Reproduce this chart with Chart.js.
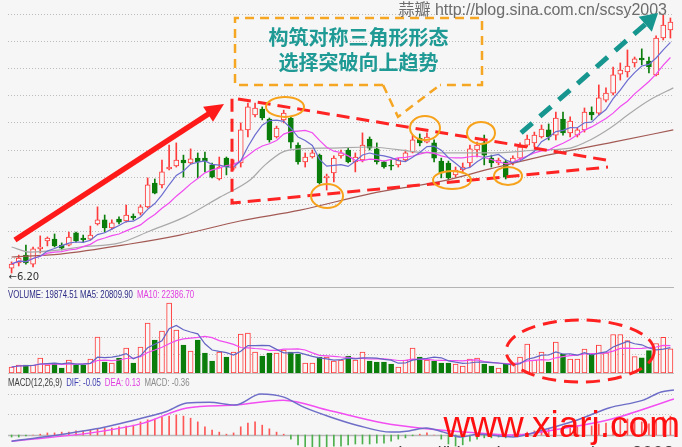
<!DOCTYPE html>
<html>
<head>
<meta charset="utf-8">
<script src="https://cdn.jsdelivr.net/npm/chart.js@4.4.1/dist/chart.umd.min.js"></script>
<style>
  html, body { margin: 0; padding: 0; background: #f6f6f6; overflow: hidden; }
  #wrap { position: relative; width: 682px; height: 447px; }
  canvas { position: absolute; left: 0; }
  #cPrice { top: 0; z-index: 3; }
  #cVol { top: 288px; z-index: 2; }
  #cMacd { top: 374px; z-index: 1; }
</style>
</head>
<body>
<div id="wrap">
  <canvas id="cMacd" width="682" height="73"></canvas>
  <canvas id="cVol" width="682" height="100"></canvas>
  <canvas id="cPrice" width="682" height="288"></canvas>
</div>
<script>
// ---- daily bars (oldest first) ----
const openP = [6.38,6.57,6.86,6.53,7.09,7.38,7.45,7.23,7.23,7.68,
  7.49,7.45,8.01,8.16,7.86,8.19,8.12,8.30,8.41,8.64,
  9.52,9.45,10.04,10.15,10.37,10.26,10.44,10.44,10.19,9.67,
  10.44,10.07,10.26,11.48,12.03,12.25,11.88,11.22,11.85,11.92,
  10.92,10.30,10.48,10.55,9.71,9.89,10.52,10.74,10.30,10.37,
  11.14,10.78,10.30,10.18,10.19,10.37,10.66,11.18,11.03,11.00,
  10.33,10.26,9.82,10.00,10.26,10.74,11.00,10.44,10.26,10.30,
  10.26,10.44,10.92,11.00,11.22,11.48,11.29,11.88,11.37,11.29,
  11.48,12.14,12.10,12.58,12.84,13.54,13.62,13.95,14.13,14.02,
  13.51,14.87,15.17];
const highP = [6.61,6.86,7.23,7.16,7.57,7.53,7.64,7.31,7.71,7.71,
  7.60,7.93,8.64,8.34,8.16,8.27,8.71,8.38,8.71,9.71,
  9.67,10.37,10.92,11.00,10.55,10.78,10.63,10.66,10.26,10.48,
  10.48,10.37,11.74,12.47,12.47,12.33,11.92,11.62,12.21,11.96,
  11.00,10.63,10.74,10.59,9.85,10.52,10.74,10.81,10.63,11.37,
  11.22,11.00,10.33,10.37,10.44,10.74,11.29,11.33,11.37,11.11,
  10.44,10.33,10.11,10.26,10.92,11.03,11.29,10.55,10.44,10.37,
  10.52,11.00,11.29,11.40,11.66,11.70,12.14,12.14,11.96,11.55,
  12.29,12.33,13.14,13.03,13.80,13.95,14.43,14.17,14.47,14.17,
  14.95,15.72,15.61];
const lowP = [6.20,6.46,6.53,6.42,6.94,7.20,7.16,7.05,7.20,7.34,
  7.34,7.42,7.97,7.71,7.82,8.01,8.08,8.16,8.34,8.60,
  9.12,9.34,10.00,10.11,9.74,10.22,9.71,9.93,9.71,9.63,
  9.82,10.00,10.11,11.22,11.96,11.85,11.03,11.18,11.74,10.81,
  10.22,10.11,10.44,9.48,9.26,9.56,10.44,10.26,9.93,10.30,
  10.74,10.22,10.07,10.00,10.11,10.33,10.63,10.89,11.00,10.30,
  9.71,9.63,9.74,9.93,10.11,10.48,10.19,10.11,10.19,9.67,
  10.19,10.37,10.85,10.85,11.18,11.11,11.11,11.29,11.22,11.22,
  11.40,11.85,12.03,12.51,12.77,13.32,13.43,13.80,13.88,13.58,
  13.47,14.80,14.87];
const closeP = [6.53,6.75,6.57,7.09,7.16,7.49,7.20,7.12,7.53,7.38,
  7.42,7.60,8.16,7.86,8.05,8.08,8.34,8.23,8.64,9.45,
  9.15,9.93,10.11,10.37,10.26,10.41,10.30,10.33,9.74,10.11,
  10.11,10.26,11.48,12.33,12.29,11.92,11.11,11.55,12.10,11.03,
  10.30,10.48,10.63,9.52,9.78,10.44,10.63,10.30,10.48,10.92,
  10.81,10.30,10.11,10.14,10.37,10.63,11.11,11.00,11.22,10.44,
  9.89,9.71,10.00,10.11,10.78,10.92,10.55,10.26,10.37,9.74,
  10.44,10.85,11.14,11.29,11.51,11.22,11.92,11.37,11.81,11.48,
  12.14,12.03,12.66,12.84,13.51,13.69,13.84,14.10,14.06,13.80,
  14.87,15.35,15.46];
const volume = [4920,6560,6560,6560,12300,6560,8200,4100,10660,6560,
  6560,11480,29520,9020,8200,12300,20500,8200,21320,41000,
  27060,34440,57400,35260,22960,18040,27060,16400,9840,17220,
  13120,17220,31980,32800,17220,13940,16400,16400,18860,17220,
  15580,8200,8200,13120,13120,9840,10660,13940,10660,17220,
  9840,9020,9020,7380,4920,10660,20500,13120,10660,9840,
  8200,8200,7380,5740,11480,12300,7380,5740,4100,7380,
  8200,13120,23780,10660,17220,9020,25420,15580,11480,11480,
  19680,15580,22960,16600,31600,31600,26617.5,13400,12450,18300,
  24170,29255,19874.51];

// longer averages, read as [bar, price]
const ma30Line = [[0,7.16],[2.6,6.97],[6.8,7.05],[9.6,7.16],[15.1,7.31],[19.3,7.75],[24.2,8.27],
  [29.1,9.00],[33.3,9.63],[35.4,10.19],[37.9,10.67],[40.3,10.78],[44.5,10.81],[50,10.85],
  [58.4,10.63],[66.8,10.63],[73.8,10.74],[78,10.81],[80.8,11.11],[83.6,11.55],[86.4,12.10],
  [89.1,12.58],[92.4,13.03]];
const ma60Line = [[0,6.79],[6.8,6.90],[16.5,7.27],[23.5,7.60],[31.9,8.12],[40.3,8.52],
  [50,9.12],[60.8,9.63],[66.8,10.04],[74.8,10.55],[84,11.03],[92.4,11.48]];

// MACD(12,26,9)
const difLine = [[0,-0.15],[4.4,-0.05],[11.8,0.15],[18.4,0.42],[21.4,0.56],[24.5,0.78],[27.6,0.80],
  [31.2,0.73],[34.8,1.00],[37.9,0.93],[40.8,0.68],[44.5,0.44],[48.2,0.24],[53,0.07],[55.5,0.10],
  [57.9,0.17],[60.3,0.07],[62.8,-0.05],[65.1,0.02],[70,-0.05],[74.2,0.12],[79.1,0.37],[83.4,0.66],
  [88.2,0.85],[90.7,1.05],[92.5,1.10]];
const deaLine = [[0,-0.15],[11.8,0.07],[18.4,0.29],[24.5,0.66],[31.2,0.73],[37.9,0.85],[44.5,0.59],
  [51.9,0.29],[57.9,0.15],[65.1,0.05],[70,0.0],[77.3,0.17],[83.4,0.37],[92.5,0.88]];
const macdHist = [-0.05,-0.05,-0.02,0,0.02,0.05,0.05,0.07,0.07,0.10,
  0.10,0.12,0.15,0.17,0.17,0.20,0.22,0.24,0.32,0.37,
  0.39,0.44,0.46,0.49,0.46,0.41,0.32,0.20,0.12,0.07,
  0.02,0.05,0.20,0.29,0.32,0.24,0.15,0.07,0.02,-0.10,
  -0.24,-0.29,-0.32,-0.32,-0.29,-0.27,-0.27,-0.24,-0.22,-0.22,
  -0.22,-0.20,-0.20,-0.15,-0.10,-0.07,-0.02,0.02,0.05,0,
  -0.10,-0.22,-0.27,-0.24,-0.15,-0.10,-0.07,-0.07,-0.05,-0.07,
  -0.02,0.02,0.07,0.10,0.12,0.15,0.20,0.20,0.22,0.22,
  0.24,0.22,0.27,0.29,0.34,0.37,0.39,0.37,0.32,0.27,
  0.37,0.44,0.46];
const macdTitle = ['MACD(12,26,9)', 'DIF: -0.05', 'DEA: 0.13', 'MACD: -0.36'];

// reference grid levels
const priceGrid = [6.757,7.757,8.757,9.757,10.757,11.757,12.757,13.757,14.757,15.757];
const volumeGrid = [15580,29930,44280];
const macdGrid = [0.5,1.0];

// pattern notes, in [bar, price] units
const notes = {
  trend: { from: [0.47, 7.42], to: [29.66, 12.44] },
  wedge: [[83.0, 10.37], [30.78, 12.66], [30.78, 8.78], [83.28, 10.11]],
  rings: [[38.18, 12.33, 19, 10], [44.05, 9.04, 16, 12], [57.73, 11.55, 15, 12],
          [61.5, 9.63, 19, 9], [65.55, 11.37, 14, 11], [69.32, 9.78, 14, 9]],
  callout: { left: 31.2, right: 65.69, top: 15.61, bottom: 13.14, tip: [53.96, 11.96], baseL: 51.87, baseR: 59.82,
             lines: ['构筑对称三角形形态', '选择突破向上趋势'], rows: [14.91, 13.97] },
  breakout: { from: [71.14, 11.37], to: [90.27, 15.79] },
  volRing: [79.4, 18040, 74, 31]
};

// ---- styling ----
const RED = '#ff3a3a', GREEN = '#0a7d0a', HOLLOW = '#f8f8f8';
const N = closeP.length;
const bars = closeP.map((_, i) => i);
const isUp = bars.map(i => closeP[i] >= openP[i]);

function movingAvg(arr, n) {
  return arr.map((_, i) => {
    const w = arr.slice(Math.max(0, i - n + 1), i + 1);
    return w.reduce((a, b) => a + b, 0) / w.length;
  });
}
const ma5 = movingAvg(closeP, 5), ma10 = movingAvg(closeP, 10);
const vma5 = movingAvg(volume, 5), vma10 = movingAvg(volume, 10);

function baseOptions(yMin, yMax, pad) {
  return {
    responsive: false, animation: false, devicePixelRatio: 1, events: [],
    layout: { padding: pad },
    plugins: { legend: { display: false }, tooltip: { enabled: false } },
    scales: {
      x: { type: 'linear', min: -0.5, max: N - 0.5, display: false, offset: false },
      y: { min: yMin, max: yMax, display: false }
    }
  };
}

function panelPlugin(id, grid, extras) {
  return {
    id,
    beforeDatasetsDraw(chart) {
      const { ctx, chartArea: a, scales: { y } } = chart;
      ctx.save();
      ctx.strokeStyle = '#bdbdbd'; ctx.lineWidth = 1; ctx.setLineDash([1, 2]);
      grid.forEach(v => {
        const py = Math.round(y.getPixelForValue(v)) + 0.5;
        ctx.beginPath(); ctx.moveTo(a.left, py); ctx.lineTo(a.right, py); ctx.stroke();
      });
      ctx.restore();
      if (extras.under) extras.under(chart);
    },
    afterDraw(chart) { if (extras.over) extras.over(chart); }
  };
}

function pt(chart, i, v) {
  return { x: chart.scales.x.getPixelForValue(i), y: chart.scales.y.getPixelForValue(v) };
}
function head(ctx, from, tip, len, half) {
  const ang = Math.atan2(tip.y - from.y, tip.x - from.x);
  const c = Math.cos(ang), s = Math.sin(ang);
  ctx.beginPath();
  ctx.moveTo(tip.x, tip.y);
  ctx.lineTo(tip.x - len * c + half * s, tip.y - len * s - half * c);
  ctx.lineTo(tip.x - len * c - half * s, tip.y - len * s + half * c);
  ctx.closePath(); ctx.fill();
}
function squeezedText(ctx, text, x, y, sx, color) {
  ctx.save(); ctx.translate(x, y); ctx.scale(sx, 1);
  ctx.fillStyle = color; ctx.fillText(text, 0, 0);
  const w = ctx.measureText(text).width * sx;
  ctx.restore();
  return w;
}

// ---- price panel ----
new Chart(document.getElementById('cPrice'), {
  type: 'bar',
  data: {
    datasets: [
      { data: bars.map(i => ({ x: i, y: [lowP[i], highP[i]] })),
        backgroundColor: bars.map(i => isUp[i] ? RED : GREEN),
        barThickness: 1, grouped: false, order: 5 },
      { data: bars.map(i => ({ x: i, y: [openP[i], closeP[i]] })),
        backgroundColor: bars.map(i => isUp[i] ? HOLLOW : GREEN),
        borderColor: bars.map(i => isUp[i] ? RED : GREEN),
        borderWidth: 1, borderSkipped: false, barThickness: 5, grouped: false, order: 4 },
      { type: 'line', data: ma60Line.map(([x, y]) => ({ x, y })), borderColor: '#a35a55', borderWidth: 1.2,
        pointRadius: 0, cubicInterpolationMode: 'monotone', order: 3 },
      { type: 'line', data: ma30Line.map(([x, y]) => ({ x, y })), borderColor: '#a9a9a9', borderWidth: 1.2,
        pointRadius: 0, cubicInterpolationMode: 'monotone', order: 3 },
      { type: 'line', data: bars.map(i => ({ x: i, y: ma10[i] })), borderColor: '#f04cf0', borderWidth: 1.2,
        pointRadius: 0, order: 2 },
      { type: 'line', data: bars.map(i => ({ x: i, y: ma5[i] })), borderColor: '#6c6cd0', borderWidth: 1.2,
        pointRadius: 0, order: 1 }
    ]
  },
  options: baseOptions(5.6465, 16.2738, { left: 8, right: 8, top: 0, bottom: 0 }),
  plugins: [panelPlugin('pricePanel', priceGrid, {
    over(chart) {
      const { ctx, chartArea: a } = chart;
      ctx.save();
      // panel divider
      ctx.strokeStyle = '#b4b4b4'; ctx.lineWidth = 1;
      ctx.beginPath(); ctx.moveTo(a.left, a.bottom - 0.5); ctx.lineTo(a.right, a.bottom - 0.5); ctx.stroke();

      // lowest low marker
      const lowVal = Math.min(...lowP);
      const lp = pt(chart, lowP.indexOf(lowVal), lowVal);
      ctx.font = '10px "DejaVu Sans"'; ctx.fillStyle = '#333'; ctx.textBaseline = 'middle';
      ctx.fillText('\u2190' + lowVal.toFixed(2), lp.x - 3, lp.y + 4);

      // rising trend arrow
      const t0 = pt(chart, ...notes.trend.from), t1 = pt(chart, ...notes.trend.to);
      const ang = Math.atan2(t1.y - t0.y, t1.x - t0.x);
      ctx.strokeStyle = '#ff1a1a'; ctx.fillStyle = '#ff1a1a'; ctx.lineWidth = 5.5; ctx.lineCap = 'butt';
      ctx.beginPath(); ctx.moveTo(t0.x, t0.y);
      ctx.lineTo(t1.x - 14 * Math.cos(ang), t1.y - 14 * Math.sin(ang)); ctx.stroke();
      head(ctx, t0, t1, 19, 9);

      // symmetric triangle outline
      ctx.setLineDash([13, 7]); ctx.lineWidth = 3; ctx.strokeStyle = '#ff2424';
      ctx.beginPath();
      notes.wedge.forEach(([i, v], k) => { const p = pt(chart, i, v); k ? ctx.lineTo(p.x, p.y) : ctx.moveTo(p.x, p.y); });
      ctx.stroke();

      // touch points
      ctx.setLineDash([]); ctx.lineWidth = 2; ctx.strokeStyle = '#f7a21b';
      notes.rings.forEach(([i, v, rx, ry]) => {
        const p = pt(chart, i, v);
        ctx.beginPath(); ctx.ellipse(p.x, p.y, rx, ry, 0, 0, Math.PI * 2); ctx.stroke();
      });

      // callout box
      const c = notes.callout;
      const tl = pt(chart, c.left, c.top), br = pt(chart, c.right, c.bottom);
      const tip = pt(chart, ...c.tip);
      const bl = chart.scales.x.getPixelForValue(c.baseL), brx = chart.scales.x.getPixelForValue(c.baseR);
      ctx.setLineDash([9, 6]); ctx.lineWidth = 2.5; ctx.strokeStyle = '#f5a623';
      ctx.beginPath();
      ctx.moveTo(bl, br.y); ctx.lineTo(tl.x, br.y); ctx.lineTo(tl.x, tl.y);
      ctx.lineTo(br.x, tl.y); ctx.lineTo(br.x, br.y); ctx.lineTo(brx, br.y);
      ctx.stroke();
      ctx.beginPath(); ctx.moveTo(bl, br.y); ctx.lineTo(tip.x, tip.y); ctx.lineTo(brx, br.y); ctx.stroke();
      ctx.setLineDash([]);
      ctx.font = 'bold 20px "Noto Sans CJK SC"'; ctx.fillStyle = '#1f9a95';
      ctx.textAlign = 'center'; ctx.textBaseline = 'middle';
      const cx = (tl.x + br.x) / 2;
      c.lines.forEach((s, k) => ctx.fillText(s, cx, chart.scales.y.getPixelForValue(c.rows[k])));

      // blog mark
      ctx.font = '16px "Liberation Sans", "Noto Sans CJK SC"'; ctx.fillStyle = '#6c6c6c';
      ctx.textAlign = 'right'; ctx.textBaseline = 'alphabetic';
      ctx.fillText('蒜瓣 http://blog.sina.com.cn/scsy2003', a.right - 7, 15);

      // breakout arrow
      const b0 = pt(chart, ...notes.breakout.from), b1 = pt(chart, ...notes.breakout.to);
      const bang = Math.atan2(b1.y - b0.y, b1.x - b0.x);
      ctx.strokeStyle = '#16968f'; ctx.fillStyle = '#16968f'; ctx.lineWidth = 5; ctx.setLineDash([15, 10]);
      ctx.beginPath(); ctx.moveTo(b0.x, b0.y);
      ctx.lineTo(b1.x - 15 * Math.cos(bang), b1.y - 15 * Math.sin(bang)); ctx.stroke();
      ctx.setLineDash([]);
      head(ctx, b0, b1, 17, 10);
      ctx.restore();
    }
  })]
});

// ---- volume panel ----
new Chart(document.getElementById('cVol'), {
  type: 'bar',
  data: {
    datasets: [
      { data: bars.map(i => ({ x: i, y: volume[i] })),
        backgroundColor: bars.map(i => isUp[i] ? HOLLOW : GREEN),
        borderColor: bars.map(i => isUp[i] ? RED : GREEN),
        borderWidth: 1, borderSkipped: false, barThickness: 5, grouped: false, order: 3 },
      { type: 'line', data: bars.map(i => ({ x: i, y: vma10[i] })), borderColor: '#f04cf0', borderWidth: 1.2,
        pointRadius: 0, order: 2 },
      { type: 'line', data: bars.map(i => ({ x: i, y: vma5[i] })), borderColor: '#6464c4', borderWidth: 1.2,
        pointRadius: 0, order: 1 }
    ]
  },
  options: baseOptions(0, 69700, { left: 8, right: 8, top: 0, bottom: 15 }),
  plugins: [panelPlugin('volPanel', volumeGrid, {
    over(chart) {
      const { ctx, chartArea: a } = chart;
      ctx.save();
      ctx.strokeStyle = '#c4c4c4'; ctx.lineWidth = 1;
      ctx.beginPath(); ctx.moveTo(a.left, a.bottom + 0.5); ctx.lineTo(a.right, a.bottom + 0.5); ctx.stroke();
      const last = N - 1;
      ctx.font = '10px "Liberation Sans"'; ctx.textBaseline = 'middle';
      const w = squeezedText(ctx, 'VOLUME: ' + volume[last].toFixed(2) + ' MA5: ' + vma5[last].toFixed(2), a.left, 7, 0.78, '#2c2c86');
      squeezedText(ctx, 'MA10: ' + vma10[last].toFixed(2), a.left + w + 4, 7, 0.78, '#e03ee0');
      // volume expansion ring
      const [ri, rv, rx, ry] = notes.volRing;
      const p = pt(chart, ri, rv);
      ctx.strokeStyle = '#ff2020'; ctx.lineWidth = 3; ctx.setLineDash([14, 8]);
      ctx.beginPath(); ctx.ellipse(p.x, p.y, rx, ry, 0, 0, Math.PI * 2); ctx.stroke();
      ctx.restore();
    }
  })]
});

// ---- MACD panel ----
new Chart(document.getElementById('cMacd'), {
  type: 'bar',
  data: {
    datasets: [
      { data: bars.map(i => ({ x: i, y: macdHist[i] })),
        backgroundColor: bars.map(i => macdHist[i] >= 0 ? '#ff5656' : '#4cb04c'),
        barThickness: 1, grouped: false, order: 3 },
      { type: 'line', data: deaLine.map(([x, y]) => ({ x, y })), borderColor: '#f24ef2', borderWidth: 1.5,
        pointRadius: 0, cubicInterpolationMode: 'monotone', order: 2 },
      { type: 'line', data: difLine.map(([x, y]) => ({ x, y })), borderColor: '#6e6ec8', borderWidth: 1.5,
        pointRadius: 0, cubicInterpolationMode: 'monotone', order: 1 }
    ]
  },
  options: baseOptions(-0.293, 1.488, { left: 8, right: 8, top: 0, bottom: 0 }),
  plugins: [panelPlugin('macdPanel', macdGrid, {
    under(chart) {
      const { ctx, chartArea: a } = chart;
      const y0 = Math.round(chart.scales.y.getPixelForValue(0)) + 0.5;
      ctx.save(); ctx.strokeStyle = '#b8b8b8'; ctx.lineWidth = 1.5;
      ctx.beginPath(); ctx.moveTo(a.left, y0); ctx.lineTo(a.right, y0); ctx.stroke(); ctx.restore();
    },
    over(chart) {
      const { ctx, chartArea: a, width } = chart;
      ctx.save();
      ctx.font = '10px "Liberation Sans"'; ctx.textBaseline = 'middle';
      const cols = ['#3c3c3c', '#3c3cb0', '#e03ee0', '#8a8a8a'];
      let x = a.left;
      macdTitle.forEach((s, k) => { x += squeezedText(ctx, s, x, 9, 0.78, cols[k]) + 4; });
      // site marks
      ctx.textAlign = 'right'; ctx.textBaseline = 'top'; ctx.font = '19px "Liberation Sans"'; ctx.fillStyle = '#3a3a3a';
      ctx.fillText('http://blog.sina.com.cn/scsy2003', a.right, 70);
      ctx.textBaseline = 'alphabetic';
      ctx.font = '37px "Liberation Sans"'; ctx.fillStyle = '#ff1010';
      ctx.fillText('www.xiarj.com', width - 2, 63);
      ctx.restore();
    }
  })]
});
</script>
</body>
</html>
